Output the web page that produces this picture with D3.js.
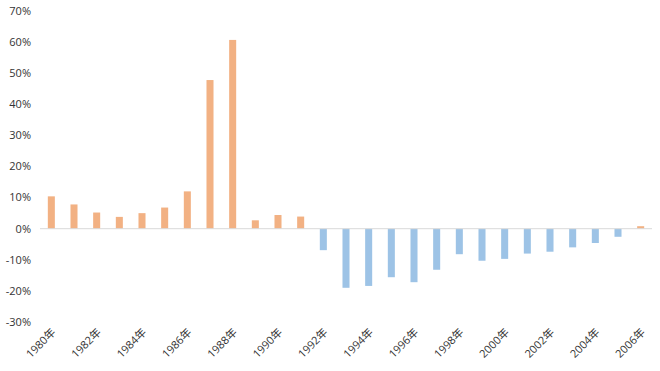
<!DOCTYPE html>
<html>
<head>
<meta charset="utf-8">
<script src="https://cdn.jsdelivr.net/npm/d3@7"></script>
<style>
  body { margin: 0; background: #fff; }
  svg text { font-family: "Open Sans", "Noto Sans CJK JP", sans-serif; fill: #333; }
</style>
</head>
<body>
<svg id="chart" width="660" height="371"></svg>
<script>
const years = d3.range(1980, 2007);
const changes = [
  10.4, 7.8, 5.2, 3.8, 5.0, 6.8, 12.0, 47.8, 60.7, 2.7, 4.4, 3.9,
  -6.9, -19.0, -18.4, -15.6, -17.2, -13.2, -8.2, -10.3, -9.7, -8.0,
  -7.4, -6.0, -4.6, -2.6, 0.8
];
const yTicks = [-30, -20, -10, 0, 10, 20, 30, 40, 50, 60, 70];
const xLabels = years.filter((y) => (y - 1980) % 2 === 0);

const svg = d3.select("#chart");
const x = d3.scaleBand().domain(years).range([40, 652]).paddingInner(0.69).paddingOuter(0.345);
const y = d3.scaleLinear().domain([-30, 70]).range([322, 11]);

// bars
svg.append("g")
  .selectAll("rect")
  .data(years)
  .join("rect")
  .attr("x", (d) => x(d))
  .attr("width", x.bandwidth())
  .attr("y", (d, i) => y(Math.max(0, changes[i])))
  .attr("height", (d, i) => Math.abs(y(changes[i]) - y(0)))
  .attr("fill", (d, i) => (changes[i] >= 0 ? "#F2B183" : "#9DC3E6"));

// zero line
svg.append("line")
  .attr("x1", 40).attr("x2", 652)
  .attr("y1", y(0)).attr("y2", y(0))
  .attr("stroke", "#D9D9D9").attr("stroke-width", 1);

// y labels
svg.append("g")
  .selectAll("text")
  .data(yTicks)
  .join("text")
  .attr("x", 31)
  .attr("y", (d) => y(d))
  .attr("dy", "0.35em")
  .attr("text-anchor", "end")
  .attr("font-size", 11)
  .text((d) => d + "%");

// x labels
svg.append("g")
  .selectAll("text")
  .data(xLabels)
  .join("text")
  .attr("transform", (d) => `translate(${x(d) + x.bandwidth() / 2 + 5},${333}) rotate(-45)`)
  .attr("text-anchor", "end")
  .attr("font-size", 11)
  .text((d) => d + "年");
</script>
</body>
</html>
